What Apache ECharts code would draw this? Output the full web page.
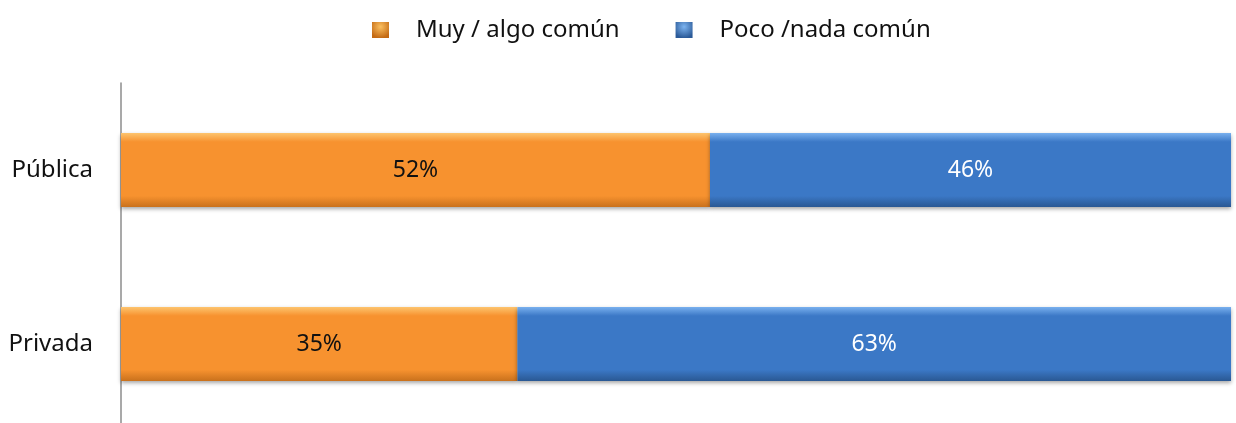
<!DOCTYPE html>
<html>
<head>
<meta charset="utf-8">
<script src="https://cdn.jsdelivr.net/npm/echarts@6/dist/echarts.min.js"></script>
<style>html,body{margin:0;padding:0;background:#fff}#c{width:1236px;height:423px}</style>
</head>
<body>
<div id="c"></div>
<script>
const categories = ['Privada', 'Pública'];
const seriesNames = ['Muy / algo común', 'Poco /nada común'];
const muyAlgo = [35, 52];
const pocoNada = [63, 46];
const axisMax = 98;

const FONT = '"Noto Sans", "Open Sans", sans-serif';
function grad(top, mid, bot) {
  return new echarts.graphic.LinearGradient(0, 0, 0, 1, [
    {offset: 0, color: top}, {offset: 0.12, color: mid}, {offset: 0.85, color: mid}, {offset: 1, color: bot}
  ]);
}
const orange = grad('#FDC46E', '#F7922F', '#C9711C');
const blue = grad('#79B0EE', '#3B78C6', '#2A5893');
const orangeIcon = new echarts.graphic.RadialGradient(0.5, 0.3, 0.7, [
  {offset: 0, color: '#FBC060'}, {offset: 1, color: '#C46A14'}
]);
const blueIcon = new echarts.graphic.RadialGradient(0.5, 0.3, 0.7, [
  {offset: 0, color: '#7DB4F0'}, {offset: 1, color: '#2B5A98'}
]);

const chart = echarts.init(document.getElementById('c'));
chart.setOption({
  animation: false,
  legend: {
    top: 13, left: 367,
    itemWidth: 17, itemHeight: 16, itemGap: 56,
    icon: 'rect',
    textStyle: {fontFamily: FONT, fontSize: 24, color: '#111', padding: [0, 0, 0, 22]},
    data: [
      {name: seriesNames[0], itemStyle: {color: orangeIcon}},
      {name: seriesNames[1], itemStyle: {color: blueIcon}}
    ]
  },
  grid: {left: 121, right: 5, top: 83, height: 348, outerBoundsMode: 'none', containLabel: false},
  xAxis: {type: 'value', min: 0, max: axisMax, show: false},
  yAxis: {
    type: 'category', data: categories,
    axisLine: {show: true, lineStyle: {color: '#8c8c8c', width: 1.5}},
    axisTick: {show: false},
    axisLabel: {fontFamily: FONT, fontSize: 24, color: '#111', margin: 28}
  },
  series: [
    {
      name: seriesNames[0], type: 'bar', stack: 'a', barWidth: 74, data: muyAlgo,
      itemStyle: {color: orange, shadowColor: 'rgba(0,0,0,0.35)', shadowBlur: 4, shadowOffsetY: 2},
      label: {show: true, position: 'inside', formatter: '{c}%', fontFamily: FONT, fontSize: 23, color: '#111'}
    },
    {
      name: seriesNames[1], type: 'bar', stack: 'a', barWidth: 74, data: pocoNada,
      itemStyle: {color: blue, shadowColor: 'rgba(0,0,0,0.35)', shadowBlur: 4, shadowOffsetY: 2},
      label: {show: true, position: 'inside', formatter: '{c}%', fontFamily: FONT, fontSize: 23, color: '#fff'}
    }
  ]
});
</script>
</body>
</html>
